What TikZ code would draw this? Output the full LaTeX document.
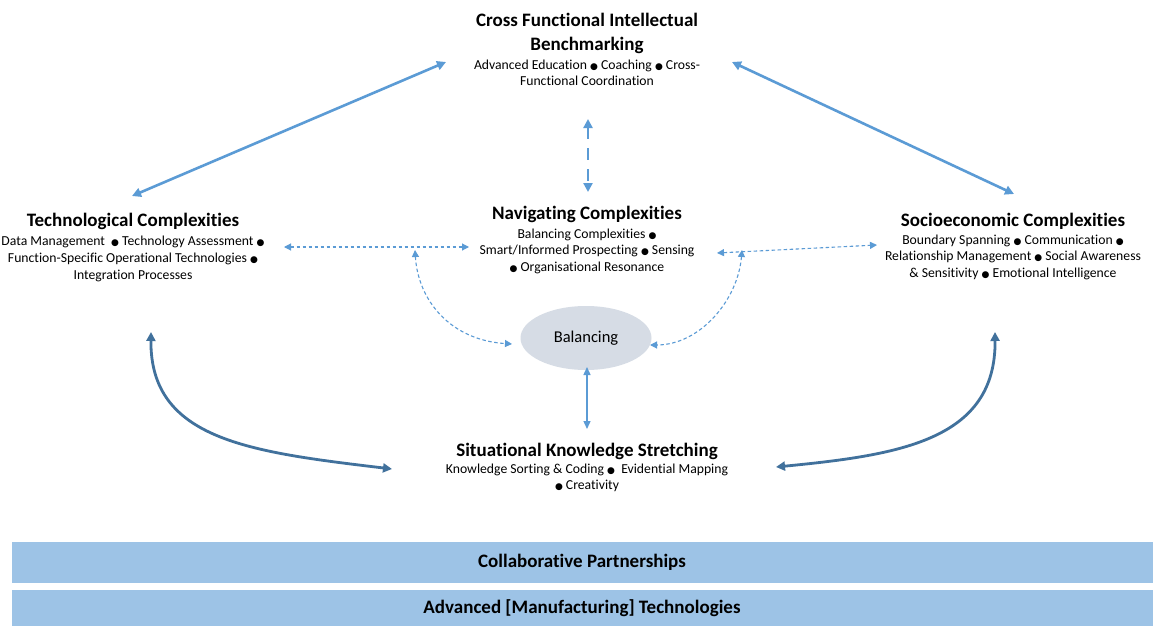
\documentclass[tikz,border=0pt]{standalone}
\usepackage{fontspec}
\setmainfont{Carlito}[Ligatures=NoCommon]
\newfontfamily\djfont{DejaVu Sans}
\usetikzlibrary{arrows.meta,shapes.geometric}
\definecolor{lblue}{HTML}{5B9BD5}
\definecolor{dblue}{HTML}{41719C}
\definecolor{barblue}{HTML}{9DC3E6}
\definecolor{ellgray}{HTML}{D6DCE5}
\newcommand{\bul}{{\djfont\fontsize{9}{9}\selectfont ●}}
\tikzset{
  ttl/.style={align=center,inner sep=0pt,font=\fontsize{19}{24}\selectfont\bfseries},
  sub/.style={align=center,inner sep=0pt,font=\fontsize{13.7}{16.5}\selectfont},
  thickarr/.style={lblue,line width=2.6pt,{Triangle[length=9pt,width=9pt]}-{Triangle[length=9pt,width=9pt]}},
  dasharr/.style={lblue,line width=1.1pt,dash pattern=on 3.5pt off 2.5pt,{Triangle[length=7pt,width=7pt]}-{Triangle[length=7pt,width=7pt]}},
  bigdash/.style={lblue,line width=2.6pt,dash pattern=on 12pt off 9pt,{Triangle[length=9pt,width=9pt]}-{Triangle[length=9pt,width=9pt]}},
  thinarr/.style={lblue,line width=1.4pt,{Triangle[length=8pt,width=7pt]}-{Triangle[length=8pt,width=7pt]}},
  curvarr/.style={dblue,line width=2.8pt,{Triangle[length=9pt,width=9pt]}-{Triangle[length=9pt,width=9pt]}},
  bar/.style={fill=barblue,draw=white,line width=0.8pt,minimum width=1142pt,inner sep=0pt,font=\fontsize{19}{22}\selectfont\bfseries}
}
\begin{document}
\begin{tikzpicture}[x=1pt,y=-1pt]
\useasboundingbox[fill=white] (0,0) rectangle (1160,626);
% nodes
\node[ttl] (cf) at (587,33) {Cross Functional Intellectual\\Benchmarking};
\node[sub,anchor=center] (cfs) at (587,73) {Advanced Education \bul{} Coaching \bul{} Cross-\\Functional Coordination};
\node[ttl] (tc) at (133,221) {Technological Complexities};
\node[sub,font=\fontsize{13.7}{17}\selectfont] (tcs) at (133,259) {Data Management \ \bul{} Technology Assessment \bul\\Function-Specific Operational Technologies \bul\\Integration Processes};
\node[ttl] (nc) at (587,214) {Navigating Complexities};
\node[sub] (ncs) at (587,251) {Balancing Complexities \bul\\Smart/Informed Prospecting \bul{} Sensing\\\bul{} Organisational Resonance};
\node[ttl] (sc) at (1013,221) {Socioeconomic Complexities};
\node[sub] (scs) at (1013,257) {Boundary Spanning \bul{} Communication \bul\\Relationship Management \bul{} Social Awareness\\\& Sensitivity \bul{} Emotional Intelligence};
\node[ellipse,fill=ellgray,minimum width=131pt,minimum height=64pt,inner sep=0pt,font=\fontsize{16.5}{18}\selectfont] (bal) at (586,338) {Balancing};
\node[ttl] (sk) at (587,451) {Situational Knowledge Stretching};
\node[sub] (sks) at (587,478) {Knowledge Sorting \& Coding \bul{} \ Evidential Mapping\\\bul{} Creativity};
\node[bar,minimum height=42pt] (cp) at (582,562) {Collaborative Partnerships};
\node[bar,minimum height=38pt] (amt) at (582,608) {Advanced [Manufacturing] Technologies};
% coordinates
\coordinate (cfL) at (446,62);
\coordinate (cfR) at (732,62);
\coordinate (tcT) at (132,196);
\coordinate (scT) at (1014,194);
\coordinate (cfB) at (588,119);
\coordinate (ncT) at (588,192);
\coordinate (tcR) at (284,247);
\coordinate (ncL) at (469,247);
\coordinate (ncR) at (717,253);
\coordinate (scL) at (877,245);
\coordinate (ncBL) at (415,250);
\coordinate (ncBR) at (742,250);
\coordinate (balL) at (512,344);
\coordinate (balR) at (650,345);
\coordinate (balB) at (587,367);
\coordinate (skT) at (587,429);
\coordinate (tcB) at (151,332);
\coordinate (scB) at (995,332);
\coordinate (skL) at (392,469);
\coordinate (skR) at (776,467);
% connectors
\draw[thickarr] (cfL) -- (tcT);
\draw[thickarr] (cfR) -- (scT);
\draw[bigdash] (cfB) -- (ncT);
\draw[dasharr] (tcR) -- (ncL);
\draw[dasharr] (ncR) -- (scL);
\draw[dasharr] (ncBL) .. controls (418,300) and (450,340) .. (balL);
\draw[dasharr] (ncBR) .. controls (738,300) and (700,345) .. (balR);
\draw[thinarr] (balB) -- (skT);
\draw[curvarr] (tcB) .. controls (150,440) and (250,452) .. (skL);
\draw[curvarr] (scB) .. controls (996,440) and (900,455) .. (skR);
\end{tikzpicture}
\end{document}
